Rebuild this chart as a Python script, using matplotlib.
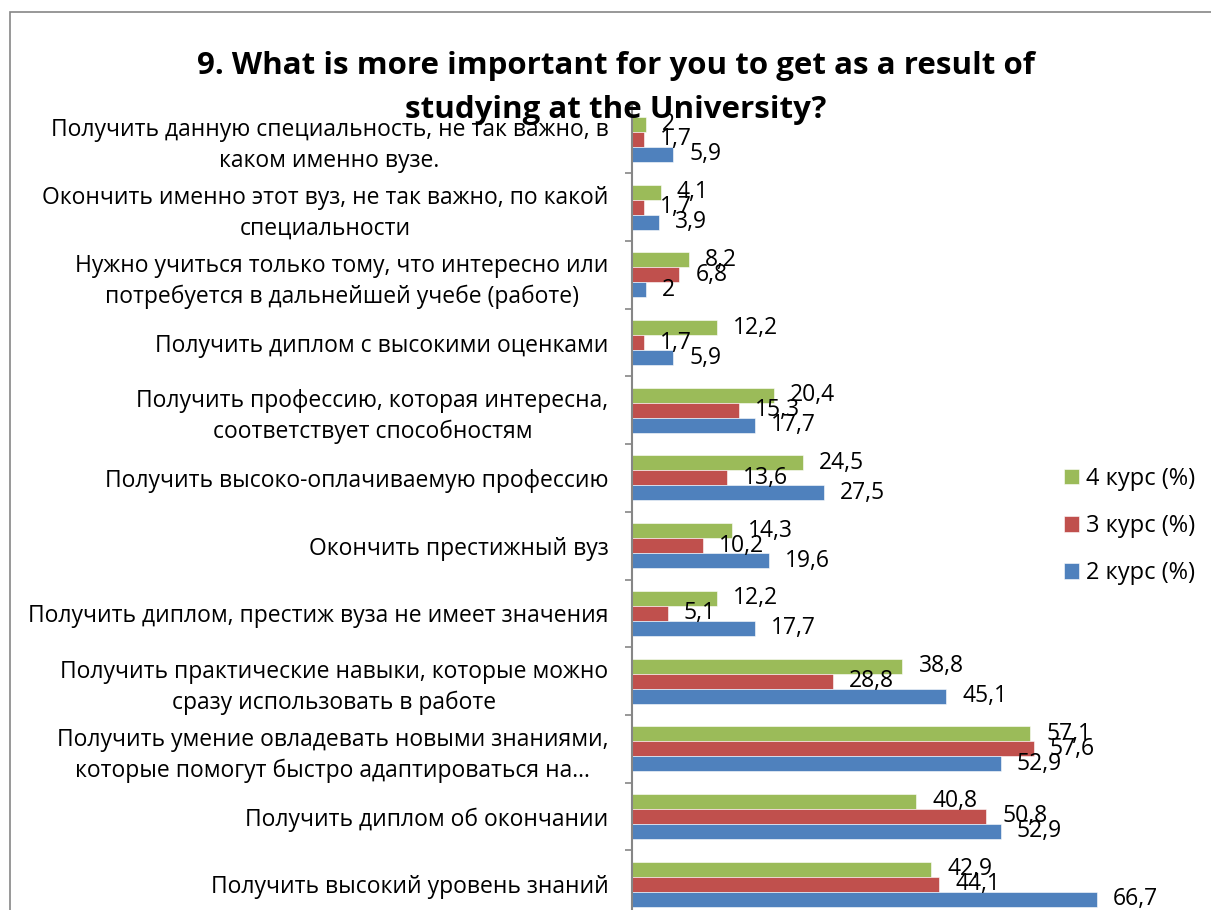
import matplotlib
matplotlib.use("Agg")
import matplotlib.pyplot as plt
from matplotlib.patches import Rectangle
from matplotlib.transforms import offset_copy
import numpy as np

plt.rcParams['font.family'] = ['Open Sans', 'DejaVu Sans']

title = "9. What is more important for you to get as a result of\nstudying at the University?"

categories = [
    "Получить данную специальность, не так важно, в\nкаком именно вузе.",
    "Окончить именно этот вуз, не так важно, по какой\nспециальности",
    "Нужно учиться только тому, что интересно или\nпотребуется в дальнейшей учебе (работе)",
    "Получить диплом с высокими оценками",
    "Получить профессию, которая интересна,\nсоответствует способностям",
    "Получить высоко-оплачиваемую профессию",
    "Окончить престижный вуз",
    "Получить диплом, престиж вуза не имеет значения",
    "Получить практические навыки, которые можно\nсразу использовать в работе",
    "Получить умение овладевать новыми знаниями,\nкоторые помогут быстро адаптироваться на…",
    "Получить диплом об окончании",
    "Получить высокий уровень знаний",
]

series_names = ["4 курс (%)", "3 курс (%)", "2 курс (%)"]
course4 = [2, 4.1, 8.2, 12.2, 20.4, 24.5, 14.3, 12.2, 38.8, 57.1, 40.8, 42.9]
course3 = [1.7, 1.7, 6.8, 1.7, 15.3, 13.6, 10.2, 5.1, 28.8, 57.6, 50.8, 44.1]
course2 = [5.9, 3.9, 2, 5.9, 17.7, 27.5, 19.6, 17.7, 45.1, 52.9, 52.9, 66.7]
colors = ["#9BBB59", "#C0504D", "#4F81BD"]

W, H = 1211, 910
fig = plt.figure(figsize=(W / 100, H / 100), dpi=100)

# chart frame (runs off the right and bottom edges)
fig.patches.append(Rectangle((10.5 / W, -0.1), 1.2, 1 - 12.5 / H + 0.1,
                             transform=fig.transFigure, fill=False,
                             edgecolor="#868686", linewidth=1.2))

ax_left, ax_top, ax_bottom = 632 / W, 1 - 105.6 / H, 1 - 918 / H
ax = fig.add_axes([ax_left, ax_bottom, 488 / W, ax_top - ax_bottom])
ax.set_xlim(0, 70)
ax.set_ylim(11.5, -0.5)

n = len(categories)
y = np.arange(n)
h = 0.222
for k, (vals, c, name) in enumerate(zip([course4, course3, course2], colors, series_names)):
    pos = y + (k - 1) * h
    ax.barh(pos, vals, height=h, color=c, edgecolor="white", linewidth=0.4, label=name)
    tr = offset_copy(ax.transData, fig=fig, x=16, y=0, units="dots")
    for yy, v in zip(pos, vals):
        ax.text(v, yy, f"{v:g}".replace(".", ","), transform=tr,
                ha="left", va="center", fontsize=16.5, color="black")

for s in ["top", "right", "bottom"]:
    ax.spines[s].set_visible(False)
ax.spines["left"].set_color("#868686")
ax.spines["left"].set_linewidth(1.5)
ax.set_xticks([])
ax.set_yticks(np.arange(-0.5, n, 1.0))
ax.set_yticklabels([])
ax.tick_params(axis="y", which="major", length=5, width=1.2, color="#868686", direction="out")
ax.set_yticks(y, minor=True)
ax.set_yticklabels(categories, minor=True, fontsize=16.5, multialignment="center",
                   linespacing=1.38)
ax.tick_params(axis="y", which="minor", length=0, pad=17)

leg = ax.legend(loc="center left", bbox_to_anchor=(1043 / W, 1 - 526 / H),
                bbox_transform=fig.transFigure, frameon=False, fontsize=17,
                handlelength=0.64, handleheight=0.64, handletextpad=0.3,
                labelspacing=0.99)

fig.text(616 / W, 1 - 88 / H, title, ha="center", va="center",
         fontsize=22.5, fontweight="bold", linespacing=1.65)

fig.savefig("out.png", dpi=100)
